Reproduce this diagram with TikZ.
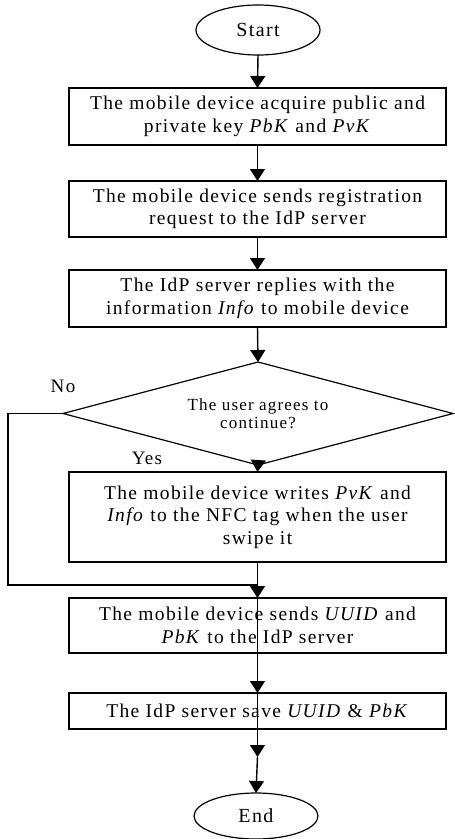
\documentclass[tikz,border=0pt]{standalone}
\usepackage{fontspec}
\setmainfont{Liberation Serif}[LetterSpace=7]
\usetikzlibrary{shapes.geometric,arrows.meta}
\begin{document}
\begin{tikzpicture}[x=1pt,y=-1pt,
  every node/.style={inner sep=0pt, outer sep=0pt},
  boxnode/.style={draw, line width=1.3pt, minimum width=377pt, align=center, font=\fontsize{19.5}{22.5}\selectfont},
  termnode/.style={draw, ellipse, line width=1.2pt, minimum width=124pt, font=\fontsize{20}{22}\selectfont},
  decnode/.style={draw, diamond, line width=1.2pt, shape aspect=3.79, minimum width=390pt, minimum height=103pt, align=center, font=\fontsize{17}{18}\selectfont},
  lbl/.style={font=\fontsize{19}{20}\selectfont},
  conn/.style={line width=1.4pt},
  arr/.style={line width=1.4pt, -{Triangle[width=15pt,length=12pt]}}]
\useasboundingbox (0,0) rectangle (455,839);
\node[termnode, minimum height=50pt] (start) at (258,30) {Start};
\node[boxnode, minimum height=57pt] (b1) at (257.5,116.5) {The mobile device acquire public and\\ private key \textit{PbK} and \textit{PvK}};
\node[boxnode, minimum height=56pt] (b2) at (257.5,209) {The mobile device sends registration\\ request to the IdP server};
\node[boxnode, minimum height=57pt] (b3) at (257.5,298.5) {The IdP server replies with the\\ information \textit{Info} to mobile device};
\node[decnode] (d) at (258,413.5) {The user agrees to\\ continue?};
\node[boxnode, minimum height=90pt] (b4) at (257.5,517) {The mobile device writes \textit{PvK} and\\ \textit{Info} to the NFC tag when the user\\ swipe it};
\node[boxnode, minimum height=55pt] (b5) at (257.5,625.5) {The mobile device sends \textit{UUID} and\\ \textit{PbK} to the IdP server};
\node[boxnode, minimum height=36pt] (b6) at (257.5,711) {The IdP server save \textit{UUID} \& \textit{PbK}};
\node[termnode, minimum height=46pt] (end) at (256,816) {End};
\node[lbl] (no) at (63,386) {No};
\node[lbl] (yes) at (147,458) {Yes};
\coordinate (lp) at (8,585);
\coordinate (mg) at (257.5,585);
\coordinate (m2) at (257.5,757);
\draw[arr] (start.south) -- (b1.north);
\draw[arr] (b1.south) -- (b2.north);
\draw[arr] (b2.south) -- (b3.north);
\draw[arr] (b3.south) -- (d.north);
\draw[arr] (d.south) -- (b4.north);
\draw[conn] (d.west) -| (lp) |- (mg);
\draw[arr] (b4.south) -- (b5.north);
\draw[arr] (b5.north) -- (b6.north);
\draw[arr] (b6.north) -- (m2);
\draw[arr] (m2) -- (end.north);
\end{tikzpicture}
\end{document}
